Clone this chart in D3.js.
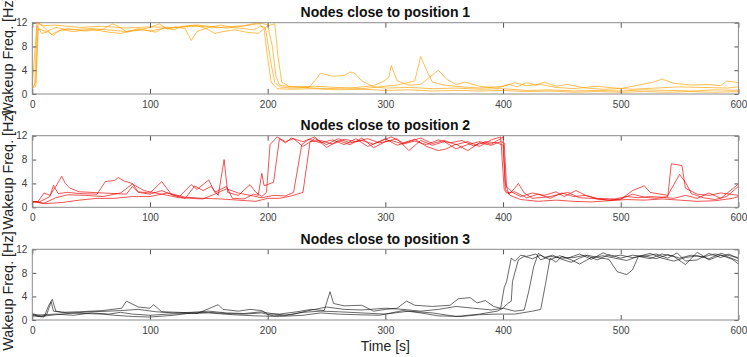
<!DOCTYPE html>
<html>
<head>
<meta charset="utf-8">
<script src="https://cdn.jsdelivr.net/npm/d3@7"></script>
<style>
  body { margin: 0; background: #fff; }
  svg { display: block; font-family: "Liberation Sans", Arial, sans-serif; }
  .tick text { fill: #404040; font-size: 10px; }
  .tick line { stroke: #555; }
</style>
</head>
<body>
<div id="chart"></div>
<script>
var width = 747,
    height = 357;

var margin = {left: 32.3, right: 8.6};

// axis ranges
var xTicks = [0, 100, 200, 300, 400, 500, 600];
var yTicks = [0, 4, 8, 12];

var titles = ["Nodes close to position 1", "Nodes close to position 2", "Nodes close to position 3"];
var colors = ["#ffa000", "#ee0000", "#111111"];

// position 1 nodes [time, Hz]
var p1n1 = [[0,1.2],[2,1.5],[4,11.5],[8,10.2],[14,10.5],[18,9.8],[22,10.6],[30,11],[45,10.6],[60,10.9],[68,11.8],[72,11.5],[80,10.5],[90,10.8],[100,11.2],[108,11.8],[115,10.9],[122,11.3],[130,11],[135,9.0],[140,10.5],[150,11.2],[160,11.6],[170,11.2],[180,11],[188,10.8],[194,11.4],[198,11.2],[203,5],[206,2],[210,1.2],[220,1],[235,1.1],[240,2.2],[245,3.5],[255,3],[265,3.1],[270,3.7],[274,3.5],[280,2.2],[290,1.2],[300,1],[320,1.1],[340,0.9],[360,1],[380,0.8],[400,0.9],[420,0.6],[440,0.7],[460,0.5],[480,0.6],[500,0.5],[520,0.7],[540,0.6],[560,0.5],[580,0.7],[600,0.6]];
var p1n2 = [[0,1],[3,2],[5,12],[10,11.2],[16,10],[25,10.8],[35,10.5],[50,10.9],[65,10.4],[75,10.2],[85,10.6],[95,10.8],[105,10.4],[112,11.2],[120,10.8],[128,11.4],[138,11.6],[148,11],[155,10.2],[162,10.5],[172,10.8],[182,10.4],[192,10.2],[200,11.5],[206,11.8],[209,6],[212,2],[218,1.3],[230,1.1],[250,0.9],[270,1],[290,1.4],[298,2.1],[303,2.8],[305,4.8],[310,2.2],[320,1.5],[330,1.6],[345,4.0],[352,2.5],[360,1.6],[368,2.0],[380,1.3],[395,1.0],[405,1.6],[412,1.2],[420,1.9],[428,1.5],[435,2.0],[445,1.3],[455,1.6],[470,1.0],[485,0.8],[500,0.9],[515,1.5],[528,2.0],[535,2.5],[545,1.8],[560,1.5],[575,1.6],[585,1.4],[590,2.2],[600,1.9]];
var p1n3 = [[0,1],[3,1.3],[5,11],[12,10.5],[20,11.2],[30,10.8],[50,11],[70,10.7],[80,10.5],[90,11],[100,10.6],[110,11],[125,11.2],[140,11.6],[150,11.4],[165,11.1],[175,11.3],[185,11.6],[195,11.9],[200,11.6],[204,8],[207,3],[210,1.5],[220,1.2],[240,1.3],[260,1.1],[280,0.9],[295,1.2],[310,1.5],[325,2.2],[330,6.3],[335,4],[340,2.0],[350,1.5],[365,1.2],[380,1.0],[400,1.3],[410,1.9],[420,1.4],[432,1.6],[445,1.1],[460,0.9],[480,1.3],[495,1.0],[510,0.8],[530,1.0],[550,1.2],[570,1.1],[590,1.0],[600,1.2]];
var p1n4 = [[0,1.5],[4,12],[10,11.5],[20,11.6],[40,11.2],[60,11.4],[80,11.1],[100,11.3],[120,11.2],[140,11.4],[160,11.2],[180,11.5],[192,12],[197,11],[200,6],[203,2],[208,0.9],[220,0.8],[240,0.9],[260,0.7],[280,0.8],[300,0.6],[320,0.7],[340,0.5],[360,0.6],[380,0.5],[400,0.6],[420,0.4],[440,0.5],[460,0.3],[480,0.4],[500,0.3],[520,0.4],[540,0.3],[560,0.4],[580,0.3],[600,0.4]];

// position 2 nodes
var p2n1 = [[0,0.8],[5,1.0],[10,2.4],[15,2],[20,3.5],[25,5.2],[28,4.0],[32,3.2],[40,2.6],[60,2.4],[80,2.2],[85,3.5],[90,2.5],[100,2.2],[110,2.8],[120,2.0],[130,1.5],[138,3.6],[145,2.8],[152,3.5],[158,2.0],[163,8.0],[166,2.5],[175,2.0],[185,3.8],[190,2.5],[195,1.8],[199,2.5],[202,10.5],[208,11.8],[215,11],[222,11.5],[230,10.2],[240,11.5],[250,10.5],[260,11.5],[270,10.8],[280,11.2],[290,10.6],[300,11.5],[310,10.4],[320,11],[330,11.6],[340,10.7],[350,11.2],[360,10.5],[370,11],[380,10.2],[390,11.3],[398,11.8],[401,3],[403,2.4],[410,2.6],[420,1.6],[430,2.2],[440,1.5],[450,2.4],[460,1.8],[470,2.0],[480,1.4],[490,1.2],[500,1.4],[510,2.2],[520,1.7],[530,1.5],[540,1.8],[543,7.3],[552,7.0],[555,3.2],[565,2.2],[575,2.0],[585,2.4],[600,2.0]];
var p2n2 = [[0,1.0],[6,0.9],[15,1.8],[18,3.7],[22,2.3],[30,2.5],[40,2.3],[55,2.2],[62,4.3],[70,4.5],[73,5.0],[78,4.4],[85,4.0],[90,2.6],[100,2.4],[110,4.3],[118,2.2],[125,1.8],[135,3.8],[140,3.0],[150,4.6],[155,2.5],[165,3.5],[170,1.5],[180,1.4],[188,2.2],[192,2.0],[195,5.7],[197,3.6],[205,4.2],[210,11.5],[215,10.8],[220,11.6],[230,11],[240,11.8],[250,10],[260,11.2],[270,10.5],[280,11.6],[290,10],[300,11],[310,11.5],[320,9.5],[330,11.2],[340,10.4],[350,11],[360,9.8],[370,10.5],[380,11],[390,10.6],[398,11.5],[400,11.8],[402,4],[405,2.2],[410,3.2],[413,4.0],[418,2.4],[425,1.5],[440,1.8],[455,2.5],[465,1.6],[475,1.5],[490,1.2],[500,1.3],[510,2.8],[520,3.6],[525,2.5],[540,2.0],[550,5.5],[555,4.2],[560,2.3],[570,1.6],[580,1.3],[590,1.8],[600,3.5]];
var p2n3 = [[0,1.0],[10,0.7],[20,1.6],[30,2.1],[45,2.0],[60,1.8],[75,2.4],[85,3.9],[95,2.8],[105,2.4],[115,2.0],[125,1.6],[135,1.5],[145,1.4],[155,2.2],[165,3.1],[175,2.4],[185,2.0],[195,1.6],[205,2.0],[215,1.9],[222,2.5],[229,10.5],[235,11.4],[245,10.8],[255,11.3],[265,10.5],[275,11.5],[285,10.2],[295,11],[305,11.8],[315,10.8],[325,11.4],[335,10.2],[345,9.5],[352,9.8],[360,10.6],[370,9.5],[380,10.8],[390,10.4],[398,11.0],[401,10.8],[403,3.5],[408,2.5],[415,1.8],[425,2.4],[435,2.0],[445,2.6],[452,1.8],[462,2.8],[470,2.0],[480,1.5],[495,1.4],[505,1.8],[515,1.6],[525,1.8],[535,1.7],[545,1.5],[555,2.0],[565,1.5],[575,2.4],[585,1.5],[600,3.9]];
var p2n4 = [[0,1.0],[10,0.6],[25,0.8],[40,1.2],[55,1.5],[70,1.5],[85,1.8],[100,1.8],[115,2.4],[130,1.7],[145,1.5],[160,1.4],[175,1.2],[190,1.0],[200,1.5],[210,1.5],[220,1.9],[230,2.5],[236,11],[245,11.2],[255,10.6],[265,11.4],[275,11.0],[285,11.5],[295,10.8],[305,11.2],[315,10.6],[325,11.1],[335,10.5],[345,11.3],[355,10.8],[365,11.2],[375,10.3],[385,11.0],[395,10.8],[400,10.4],[402,3],[406,2],[415,1.3],[430,1.0],[445,1.2],[460,1.0],[475,0.9],[490,1.1],[505,1.3],[520,1.2],[535,1.4],[550,1.2],[565,1.0],[580,1.1],[595,1.5],[600,1.8]];

// position 3 nodes
var p3n1 = [[0,1.0],[5,0.6],[12,0.8],[16,3.1],[18,1.5],[25,1.3],[40,1.4],[60,1.6],[76,2.0],[80,3.2],[84,2.8],[90,2.2],[100,2.0],[103,2.6],[110,1.4],[125,1.3],[140,1.1],[152,2.1],[158,2.6],[162,1.8],[175,1.5],[185,1.8],[195,1.6],[200,1.0],[210,1.0],[225,1.4],[237,1.8],[248,1.6],[253,4.8],[256,2.8],[265,2.4],[280,2.5],[290,1.5],[300,1.8],[310,2.0],[318,3.2],[325,2.5],[340,2.3],[355,2.5],[362,3.6],[372,3.8],[378,2.9],[385,3.3],[392,2.3],[398,2.0],[401,5.5],[403,6.5],[405,8.5],[407,10.5],[410,10.0],[415,11],[420,10.8],[428,11.2],[432,10.2],[440,10.8],[450,10.5],[460,10.6],[470,11],[480,10.2],[490,11.1],[500,10.5],[510,11.0],[520,10.8],[530,11.2],[540,10.5],[548,11.4],[555,10.0],[565,10.2],[575,11.3],[585,10.6],[592,11.2],[600,10.4]];
var p3n2 = [[0,0.7],[10,0.5],[14,2.5],[17,3.5],[20,1.5],[30,1.2],[45,1.1],[60,1.0],[70,0.8],[85,0.6],[100,0.5],[120,0.8],[135,1.2],[150,1.3],[165,1.1],[180,1.0],[195,1.2],[205,0.7],[220,0.9],[235,1.6],[250,2.2],[265,1.8],[280,1.7],[300,2.0],[315,1.8],[330,1.5],[345,1.8],[360,2.3],[375,2.0],[390,1.7],[400,2.0],[410,1.5],[418,1.7],[422,5],[426,9],[430,11.3],[435,10.6],[442,11],[450,10.3],[458,9.8],[465,10.5],[472,11],[480,10.6],[490,10.3],[497,8.2],[505,7.7],[510,8.5],[515,10.8],[525,10.4],[535,11.2],[545,10.8],[555,9.4],[565,11.5],[575,10.2],[585,11.0],[595,10.3],[600,9.5]];
var p3n3 = [[0,0.8],[10,0.9],[20,1.0],[35,0.8],[50,1.2],[65,1.0],[75,1.3],[85,1.0],[100,0.8],[115,1.0],[130,1.1],[150,1.2],[170,0.9],[190,0.7],[210,0.6],[230,0.8],[245,1.2],[260,1.0],[275,0.9],[295,0.8],[315,1.6],[330,1.2],[345,0.7],[365,0.6],[380,0.9],[395,1.0],[410,1.0],[425,1.5],[432,1.8],[436,6],[440,10.5],[445,9.8],[450,10.8],[458,10.2],[465,9.5],[475,10.6],[485,10.9],[495,10.5],[505,10.1],[515,10.8],[525,11.3],[535,10.5],[545,10.0],[555,10.6],[565,10.9],[575,10.4],[585,11.3],[595,10.8],[600,10.6]];
var p3n4 = [[0,1.1],[8,0.6],[20,0.9],[35,1.2],[50,1.4],[65,1.5],[75,1.6],[90,1.8],[105,1.4],[120,1.2],[135,1.3],[150,1.5],[165,1.2],[180,1.1],[195,1.4],[200,1.2],[215,0.8],[230,1.3],[245,1.5],[260,1.4],[280,1.2],[300,1.0],[320,1.5],[340,1.2],[360,0.6],[380,1.0],[395,1.5],[400,2.0],[404,2.8],[407,3.2],[408,6.5],[410,8.0],[413,10.2],[418,10.8],[425,10.4],[432,11.0],[440,10.2],[448,10.9],[455,10.5],[465,11.2],[475,10.3],[485,11.4],[492,10.8],[500,11.0],[510,10.6],[520,10.9],[530,10.4],[540,11.1],[550,10.5],[560,11.0],[570,10.7],[580,11.2],[590,10.8],[600,10.0]];

var panels = [[p1n1, p1n2, p1n3, p1n4], [p2n1, p2n2, p2n3, p2n4], [p3n1, p3n2, p3n3, p3n4]];
// top / bottom pixel of each plot box, and where its y label sits
var boxes = [{top: 22.7, bottom: 94, label: 56}, {top: 135.7, bottom: 207.3, label: 170}, {top: 249.3, bottom: 320, label: 291}];

var svg = d3.select("#chart").append("svg")
  .attr("width", width)
  .attr("height", height);

var xScale = d3.scaleLinear()
  .domain([0, 600])
  .range([margin.left, width - margin.right]);

panels.forEach(function(series, i) {
  var box = boxes[i];
  var yScale = d3.scaleLinear()
    .domain([0, 12])
    .range([box.bottom, box.top]);

  var g = svg.append("g").attr("class", "panel");

  var line = d3.line()
    .x(function(d) { return xScale(d[0]); })
    .y(function(d) { return yScale(d[1]); });

  g.selectAll("path.node")
    .data(series)
    .enter().append("path")
      .attr("class", "node")
      .attr("d", line)
      .attr("fill", "none")
      .attr("stroke", colors[i])
      .attr("stroke-opacity", i == 2 ? 0.7 : 0.75)
      .attr("stroke-width", 0.9);

  //axes with inward ticks
  g.append("g")
    .attr("transform", "translate(0," + box.bottom + ")")
    .call(d3.axisBottom(xScale).tickValues(xTicks).tickSize(-5).tickPadding(7))
    .call(function(a) { a.select(".domain").remove(); });
  g.append("g")
    .attr("transform", "translate(0," + box.top + ")")
    .call(d3.axisTop(xScale).tickValues(xTicks).tickSize(-5).tickFormat(""))
    .call(function(a) { a.select(".domain").remove(); });
  g.append("g")
    .attr("transform", "translate(" + margin.left + ",0)")
    .call(d3.axisLeft(yScale).tickValues(yTicks).tickSize(-4).tickPadding(5))
    .call(function(a) { a.select(".domain").remove(); });
  g.append("g")
    .attr("transform", "translate(" + (width - margin.right) + ",0)")
    .call(d3.axisRight(yScale).tickValues(yTicks).tickSize(-4).tickFormat(""))
    .call(function(a) { a.select(".domain").remove(); });

  g.append("rect")
    .attr("x", margin.left)
    .attr("y", box.top)
    .attr("width", width - margin.right - margin.left)
    .attr("height", box.bottom - box.top)
    .attr("fill", "none")
    .attr("stroke", "#8a8a8a")
    .attr("stroke-width", 1);

  g.append("text")
    .attr("x", (margin.left + width - margin.right) / 2)
    .attr("y", box.top - 5.3)
    .attr("text-anchor", "middle")
    .attr("font-weight", "bold")
    .attr("font-size", "14px")
    .attr("fill", "#111")
    .text(titles[i]);

  g.append("text")
    .attr("text-anchor", "middle")
    .attr("font-size", "14.4px")
    .attr("fill", "#222")
    .attr("transform", "translate(13," + box.label + "), rotate(-90)")
    .text("Wakeup Freq. [Hz]");
});

svg.append("text")
  .attr("x", (margin.left + width - margin.right) / 2)
  .attr("y", 351)
  .attr("text-anchor", "middle")
  .attr("font-size", "14px")
  .attr("fill", "#222")
  .text("Time [s]");
</script>
</body>
</html>
